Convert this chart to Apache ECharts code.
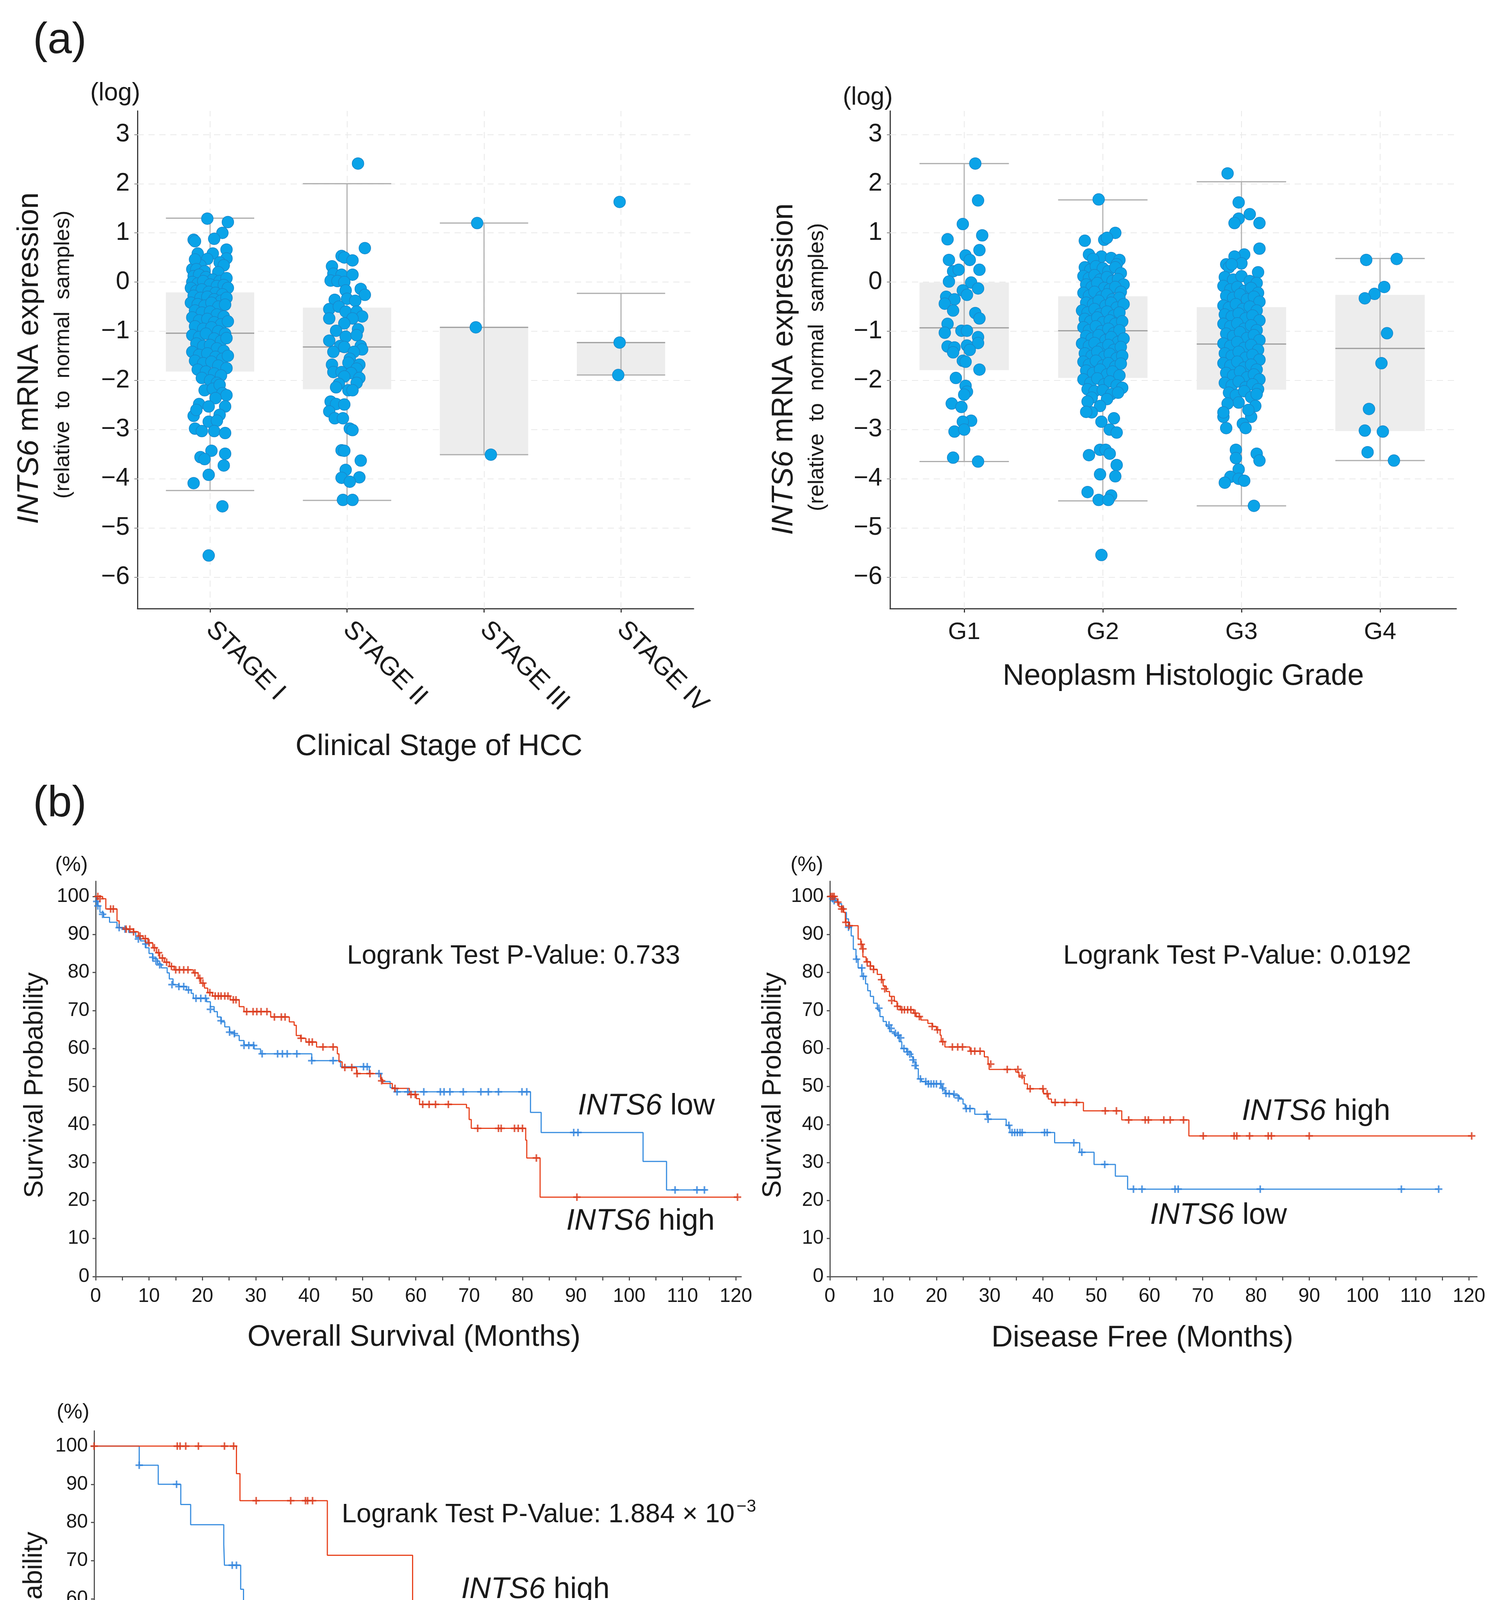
<!DOCTYPE html>
<html lang="en">
<head>
<meta charset="UTF-8">
<title>INTS6 expression and survival</title>
<script src="https://cdn.jsdelivr.net/npm/echarts@6.0.0/dist/echarts.min.js"></script>
<style>
    html, body { margin: 0; padding: 0; background: #fff; }
    #main { width: 3846px; height: 4997px; }
</style>
</head>
<body>
<div id="main"></div>
<script>
// ---------- (a) expression, log scale ----------
var stageCats = ['STAGE I', 'STAGE II', 'STAGE III', 'STAGE IV'];
var gradeCats = ['G1', 'G2', 'G3', 'G4'];
var logTicks = [-6, -5, -4, -3, -2, -1, 0, 1, 2, 3];
var catTicks = [0, 1, 2, 3];

// [lower whisker, Q1, median, Q3, upper whisker]
var stageBoxes = [
    [-4.24, -1.82, -1.04, -0.21, 1.30],
    [-4.44, -2.18, -1.32, -0.52, 2.00],
    [-3.51, -3.51, -0.92, -0.92, 1.20],
    [-1.89, -1.89, -1.23, -1.23, -0.23]
];
var gradeBoxes = [
    [-3.65, -1.79, -0.93, -0.01, 2.41],
    [-4.45, -1.95, -0.99, -0.29, 1.67],
    [-4.55, -2.19, -1.26, -0.51, 2.04],
    [-3.63, -3.03, -1.35, -0.26, 0.48]
];

// points: [jitter (category units), log expression]
var stage1Pts = [
    [-0.02,1.29],[0.13,1.22],[0.09,1.00],[0.03,0.88],[-0.12,0.86],[-0.11,0.83],[0.12,0.66],[-0.09,0.58],
    [0.02,0.58],[-0.02,0.47],[0.12,0.48],[0.07,0.40],[0.10,0.34],[-0.07,0.34],[-0.13,0.26],[-0.11,0.46],
    [-0.10,0.26],[-0.04,0.22],[0.06,0.20],
    [-0.12,0.12],[-0.08,0.15],[-0.03,0.10],[0.02,0.05],[0.07,0.02],[0.12,0.08],[-0.13,0.0],[-0.09,-0.03],
    [-0.05,0.02],[0.0,-0.05],[0.05,-0.08],[0.10,-0.06],[0.13,-0.12],[-0.14,-0.12],[-0.10,-0.18],[-0.06,-0.15],
    [-0.01,-0.20],[0.04,-0.22],[0.09,-0.25],[-0.12,-0.28],[-0.07,-0.32],[-0.02,-0.30],[0.03,-0.35],[0.08,-0.38],
    [0.12,-0.32],[-0.14,-0.42],[-0.09,-0.45],[-0.04,-0.48],[0.01,-0.42],[0.06,-0.50],[0.11,-0.46],[-0.11,-0.58],
    [-0.06,-0.62],[0.0,-0.60],[0.05,-0.66],[0.10,-0.70],[-0.13,-0.72],[-0.08,-0.78],[-0.02,-0.75],[0.03,-0.82],
    [0.08,-0.86],[0.13,-0.80],[-0.11,-0.90],[-0.05,-0.95],[0.01,-0.92],[0.06,-1.00],[0.11,-1.05],[-0.13,-1.08],
    [-0.08,-1.12],[-0.03,-1.05],[0.03,-1.15],[0.08,-1.20],[0.12,-1.14],[-0.10,-1.25],[-0.05,-1.30],[0.00,-1.28],
    [0.05,-1.35],[0.10,-1.40],[-0.13,-1.42],[-0.08,-1.48],[-0.02,-1.45],[0.04,-1.52],[0.09,-1.56],[0.13,-1.50],
    [-0.11,-1.60],[-0.05,-1.65],[0.01,-1.62],[0.06,-1.70],[0.12,-1.75],[-0.09,-1.78],[-0.03,-1.82],[0.03,-1.86],
    [0.08,-1.90],[-0.06,-1.95],[0.00,-2.00],[0.05,-2.05],
    [-0.04,-2.20],[0.02,-2.17],[0.07,-2.09],[0.09,-2.26],[0.12,-2.30],[0.04,-2.36],[-0.08,-2.48],[-0.01,-2.53],
    [0.11,-2.53],[-0.12,-2.72],[-0.10,-2.60],[0.07,-2.70],[-0.01,-2.84],[0.05,-2.82],[-0.11,-2.98],[-0.06,-3.03],
    [0.03,-3.03],[0.11,-3.07],[0.01,-3.43],[0.11,-3.49],[-0.07,-3.56],[-0.04,-3.60],[0.10,-3.73],[-0.01,-3.92],
    [-0.12,-4.09],[0.09,-4.56],[-0.01,-5.56]
];
var stage2Pts = [
    [0.08,2.41],[0.13,0.69],[-0.04,0.53],[-0.02,0.50],[0.04,0.44],[-0.11,0.32],[-0.10,0.17],[-0.04,0.15],
    [0.04,0.15],[-0.12,0.03],[-0.07,0.02],[-0.02,0.00],[-0.01,-0.17],[0.10,-0.14],[0.13,-0.26],[0.00,-0.34],
    [-0.09,-0.36],[0.06,-0.38],[-0.13,-0.55],[-0.06,-0.50],[-0.01,-0.60],[0.07,-0.60],[-0.13,-0.74],[0.11,-0.70],
    [0.04,-0.74],[-0.02,-0.84],[-0.08,-0.99],[0.08,-0.96],[-0.01,-1.11],[0.07,-1.08],[-0.13,-1.19],[-0.05,-1.30],
    [-0.02,-1.32],[0.10,-1.30],[0.11,-1.37],[-0.10,-1.42],[0.05,-1.42],[0.02,-1.56],[0.01,-1.64],[0.09,-1.68],
    [-0.11,-1.68],[0.07,-1.76],[-0.10,-1.83],[-0.04,-1.83],[0.03,-1.85],[0.09,-1.95],[-0.02,-1.92],[0.07,-2.05],
    [-0.06,-2.07],[-0.08,-2.14],[0.01,-2.20],[0.04,-2.20],[-0.12,-2.43],[-0.08,-2.48],[-0.02,-2.49],[-0.13,-2.63],
    [-0.09,-2.77],[-0.03,-2.77],[0.02,-2.98],[0.04,-3.01],[-0.04,-3.42],[-0.02,-3.43],[0.10,-3.63],[-0.01,-3.82],
    [-0.04,-3.98],[0.09,-3.97],[0.02,-4.06],[-0.03,-4.43],[0.04,-4.43]
];
var stage3Pts = [[-0.05,1.20],[-0.06,-0.92],[0.05,-3.51]];
var stage4Pts = [[-0.01,1.63],[-0.01,-1.23],[-0.02,-1.89]];

var grade1Pts = [
    [0.08,2.41],[0.10,1.66],[-0.01,1.18],[0.13,0.95],[-0.12,0.87],[-0.11,0.45],[0.01,0.54],[0.04,0.45],
    [0.11,0.25],[-0.08,0.22],[-0.04,0.25],[0.11,0.65],[-0.11,0.01],[0.05,-0.01],[0.10,-0.13],[-0.01,-0.17],
    [0.02,-0.26],[-0.13,-0.30],[-0.07,-0.35],[-0.14,-0.44],[-0.08,-0.58],[0.08,-0.63],[0.11,-0.74],[-0.12,-0.85],
    [-0.02,-0.99],[0.02,-0.99],[-0.14,-1.03],[0.10,-1.12],[0.10,-1.24],[-0.12,-1.31],[0.02,-1.29],[-0.07,-1.33],
    [-0.08,-1.43],[0.04,-1.38],[-0.01,-1.60],[0.01,-1.62],[0.11,-1.78],[-0.06,-1.95],[0.01,-2.11],[0.02,-2.23],
    [0.00,-2.29],[-0.09,-2.47],[-0.02,-2.54],[0.05,-2.82],[-0.01,-2.84],[-0.07,-3.04],[0.00,-3.00],[-0.08,-3.57],
    [0.10,-3.65]
];
var grade2Pts = [
    [-0.03,1.68],[0.09,1.00],[0.01,0.86],[0.03,0.90],[-0.13,0.84],[-0.10,0.56],[-0.01,0.52],[0.06,0.49],
    [0.12,0.45],[0.10,0.36],[-0.07,0.47],
    [-0.13,0.30],[-0.09,0.25],[-0.05,0.32],[0.0,0.28],[0.04,0.22],[0.09,0.30],[0.13,0.18],
    [-0.14,0.12],[-0.10,0.08],[-0.06,0.14],[-0.02,0.05],[0.03,0.10],[0.07,0.02],[0.11,0.06],[0.15,-0.05],
    [-0.12,-0.05],[-0.08,-0.10],[-0.04,-0.02],[0.01,-0.12],[0.05,-0.15],[0.09,-0.10],[0.13,-0.20],
    [-0.14,-0.22],[-0.10,-0.28],[-0.06,-0.20],[-0.01,-0.30],[0.03,-0.25],[0.07,-0.35],[0.12,-0.32],
    [-0.12,-0.42],[-0.07,-0.45],[-0.03,-0.38],[0.02,-0.48],[0.06,-0.42],[0.10,-0.52],[0.15,-0.45],
    [-0.15,-0.58],[-0.11,-0.62],[-0.06,-0.55],[-0.02,-0.65],[0.03,-0.60],[0.08,-0.68],[0.12,-0.62],
    [-0.13,-0.75],[-0.09,-0.80],[-0.04,-0.72],[0.0,-0.82],[0.05,-0.78],[0.09,-0.85],[0.14,-0.80],
    [-0.14,-0.92],[-0.10,-0.98],[-0.05,-0.90],[-0.01,-1.00],[0.04,-0.95],[0.08,-1.04],[0.12,-0.98],
    [-0.12,-1.10],[-0.08,-1.15],[-0.03,-1.08],[0.02,-1.18],[0.06,-1.12],[0.11,-1.22],[0.15,-1.15],
    [-0.15,-1.25],[-0.10,-1.30],[-0.06,-1.24],[-0.01,-1.35],[0.04,-1.28],[0.08,-1.38],[0.13,-1.32],
    [-0.13,-1.45],[-0.08,-1.50],[-0.04,-1.42],[0.01,-1.52],[0.05,-1.46],[0.10,-1.55],[0.14,-1.50],
    [-0.14,-1.62],[-0.10,-1.68],[-0.05,-1.60],[0.0,-1.70],[0.04,-1.65],[0.09,-1.72],[0.13,-1.66],
    [-0.12,-1.80],[-0.07,-1.85],[-0.02,-1.78],[0.03,-1.88],[0.07,-1.82],[0.12,-1.90],
    [-0.14,-1.98],[-0.09,-2.05],[-0.04,-1.96],[0.01,-2.08],[0.05,-2.02],[0.10,-2.10],[0.14,-2.15],
    [-0.11,-2.18],[-0.06,-2.22],[0.0,-2.20],[0.06,-2.28],[0.11,-2.25],[-0.08,-2.35],[0.03,-2.38],
    [-0.11,-2.43],[-0.02,-2.52],[-0.08,-2.65],[-0.12,-2.64],[0.08,-2.77],[-0.01,-2.84],[0.05,-3.00],[0.10,-3.06],
    [-0.02,-3.41],[0.02,-3.41],[-0.10,-3.52],[0.05,-3.49],[0.10,-3.72],[-0.02,-3.91],[0.09,-3.95],[-0.11,-4.27],
    [0.06,-4.34],[-0.03,-4.43],[0.04,-4.43],[-0.01,-5.55]
];
var grade3Pts = [
    [-0.10,2.21],[-0.02,1.62],[0.06,1.38],[-0.02,1.29],[-0.05,1.20],[0.13,1.20],[0.13,0.68],[0.02,0.56],
    [-0.05,0.52],[-0.11,0.36],[0.00,0.38],[0.12,0.20],[-0.09,0.30],[-0.07,0.36],
    [-0.12,0.10],[-0.06,0.05],[0.0,0.12],[0.06,0.02],[0.11,-0.02],
    [-0.13,-0.08],[-0.08,-0.15],[-0.03,-0.10],[0.02,-0.18],[0.07,-0.12],[0.12,-0.22],
    [-0.11,-0.28],[-0.06,-0.32],[-0.01,-0.25],[0.04,-0.35],[0.09,-0.30],[0.13,-0.40],
    [-0.13,-0.48],[-0.09,-0.52],[-0.04,-0.45],[0.01,-0.55],[0.06,-0.50],[0.11,-0.58],
    [-0.12,-0.66],[-0.07,-0.70],[-0.02,-0.64],[0.03,-0.74],[0.08,-0.68],[0.13,-0.78],
    [-0.13,-0.85],[-0.08,-0.90],[-0.03,-0.84],[0.02,-0.95],[0.07,-0.88],[0.11,-0.98],
    [-0.11,-1.05],[-0.06,-1.10],[-0.01,-1.02],[0.04,-1.14],[0.09,-1.08],[0.13,-1.18],
    [-0.13,-1.25],[-0.08,-1.30],[-0.03,-1.22],[0.02,-1.34],[0.07,-1.28],[0.12,-1.38],
    [-0.12,-1.45],[-0.07,-1.50],[-0.02,-1.42],[0.03,-1.54],[0.08,-1.48],[0.13,-1.58],
    [-0.13,-1.65],[-0.08,-1.70],[-0.03,-1.62],[0.02,-1.74],[0.07,-1.68],[0.11,-1.78],
    [-0.11,-1.85],[-0.06,-1.90],[-0.01,-1.82],[0.04,-1.94],[0.09,-1.88],[0.13,-1.98],
    [-0.12,-2.05],[-0.07,-2.10],[-0.02,-2.02],[0.03,-2.14],[0.08,-2.08],[0.12,-2.18],
    [-0.09,-2.25],[-0.04,-2.30],[0.02,-2.22],[0.07,-2.34],[0.11,-2.28],[-0.02,-2.45],[0.10,-2.52],
    [-0.13,-2.74],[0.07,-2.74],[-0.10,-2.47],[0.01,-2.88],[-0.11,-2.97],[0.03,-2.97],[-0.04,-3.41],[0.11,-3.49],
    [0.13,-3.63],[-0.04,-3.58],[-0.02,-3.81],[-0.08,-3.96],[-0.02,-4.00],[0.02,-4.04],[-0.12,-4.08],[0.09,-4.55],
    [-0.13,-2.65],[0.05,-2.60]
];
var grade4Pts = [
    [-0.10,0.45],[0.12,0.47],[0.03,-0.10],[-0.04,-0.24],[-0.11,-0.33],[0.05,-1.04],[0.01,-1.65],[-0.08,-2.58],
    [-0.11,-3.02],[0.02,-3.04],[-0.09,-3.46],[0.10,-3.63]
];

// ---------- (b) Kaplan-Meier, [month, survival %] ----------
var pctTicks = [0, 10, 20, 30, 40, 50, 60, 70, 80, 90, 100];
var monthLabels120 = [0, 10, 20, 30, 40, 50, 60, 70, 80, 90, 100, 110, 120];
var monthTicks120 = [0, 5, 10, 15, 20, 25, 30, 35, 40, 45, 50, 55, 60, 65, 70, 75, 80, 85, 90, 95, 100, 105, 110, 115, 120];
var monthLabels90 = [0, 10, 20, 30, 40, 50, 60, 70, 80, 90];
var monthTicks90 = [0, 5, 10, 15, 20, 25, 30, 35, 40, 45, 50, 55, 60, 65, 70, 75, 80, 85, 90];

var osHighSteps = [
    [0,100],[1.3,99.4],[1.9,96.7],[4.0,93.6],[4.4,91.8],[5.8,91.4],[7.1,90.7],[8.0,89.6],[8.9,88.9],[9.8,87.8],
    [10.7,86.5],[11.4,85.2],[12.0,83.8],[12.9,82.7],[13.8,81.6],[14.7,80.7],[18.3,79.9],[19.2,78.5],[19.7,77.2],
    [20.4,75.9],[21.0,74.7],[21.9,73.8],[25.2,72.8],[26.9,71.0],[27.8,69.7],[32.8,68.3],[36.3,67.0],[37.2,66.1],
    [37.6,63.4],[38.4,62.7],[39.4,61.7],[41.4,60.4],[45.3,58.6],[45.6,56.5],[46.2,55.0],[48.9,53.4],[53.4,51.9],
    [53.8,50.8],[55.6,49.5],[58.8,47.9],[60.1,46.8],[60.7,45.3],[69.5,44.4],[70.0,41.3],[70.4,39.0],[80.6,35.9],
    [80.8,31.2],[83.3,20.9],[120.3,20.9]
];
var osHighCensor = [
    [0.4,100],[0.8,99.4],[2.8,96.7],[3.3,96.7],[5.7,91.4],[6.4,91.4],[7.1,90.7],[8.3,89.6],[9.3,88.9],[10.0,87.8],
    [11.0,86.5],[11.8,85.2],[12.5,83.8],[13.3,82.7],[14.2,81.6],[15.0,80.7],[15.7,80.7],[16.5,80.7],[17.3,80.7],
    [18.6,79.9],[19.5,78.5],[20.1,77.2],[21.4,74.7],[22.4,73.8],[23.0,73.8],[23.5,73.8],[24.2,73.8],[24.8,73.8],
    [25.8,72.8],[26.3,72.8],[28.3,69.7],[29.5,69.7],[30.2,69.7],[31.0,69.7],[32.1,69.7],[33.5,68.3],[34.8,68.3],
    [35.5,68.3],[38.5,62.7],[40.0,61.7],[40.6,61.7],[42.6,60.4],[44.5,60.4],[46.7,55.0],[48.0,55.0],[49.0,53.4],
    [51.4,53.4],[53.6,51.5],[56.1,49.5],[59.1,47.9],[59.9,47.9],[61.3,45.3],[62.5,45.3],[63.7,45.3],[66.1,45.3],
    [71.6,39.0],[75.5,39.0],[76.0,39.0],[78.5,39.0],[79.2,39.0],[80.0,39.0],[82.6,31.2],[90.2,20.9],[120.3,20.9]
];
var osLowSteps = [
    [0,100],[0.2,98.7],[0.4,97.5],[0.8,95.8],[1.5,94.5],[2.6,93.2],[4.0,91.8],[5.1,91.4],[6.2,90.5],[7.5,89.2],
    [8.4,88.3],[9.3,86.5],[10.0,85.0],[10.7,83.6],[11.6,82.3],[12.3,81.2],[13.4,79.9],[13.8,78.3],[14.5,76.8],
    [15.6,76.3],[17.0,75.4],[17.9,74.5],[18.3,73.2],[20.8,72.3],[21.5,71.0],[22.2,69.7],[22.8,68.3],[23.5,67.0],
    [24.2,65.7],[25.1,64.3],[26.0,63.4],[26.9,62.1],[27.8,61.0],[29.7,59.9],[30.9,58.6],[40.5,56.8],[45.9,55.2],
    [51.3,53.4],[53.5,51.3],[55.2,49.7],[56.1,48.6],[81.5,43.2],[83.5,37.9],[102.6,30.3],[107.0,22.8],[114.5,22.8]
];
var osLowCensor = [
    [0.2,98.7],[0.4,97.5],[1.3,95.3],[4.4,91.8],[5.5,91.4],[8.0,88.8],[9.4,87.5],[10.7,84.0],[11.3,83.0],[12.0,82.0],
    [14.3,76.8],[15.6,76.3],[16.5,76.3],[17.4,75.4],[18.8,73.2],[19.7,73.2],[20.6,73.2],[21.5,70.3],[23.5,67.3],
    [25.1,64.3],[26.0,63.9],[27.8,60.8],[28.7,60.8],[29.6,60.8],[31.2,58.6],[34.1,58.6],[35.0,58.6],[35.9,58.6],
    [37.7,58.6],[40.5,56.8],[44.5,56.8],[50.2,55.2],[50.9,55.2],[53.1,53.4],[56.5,48.6],[58.5,48.6],[61.5,48.6],
    [64.6,48.6],[65.3,48.6],[66.4,48.6],[68.9,48.6],[72.2,48.6],[73.6,48.6],[75.5,48.6],[79.9,48.6],[80.8,48.6],
    [89.6,37.9],[90.4,37.9],[108.6,22.8],[112.7,22.8],[114.1,22.8]
];

var dfsHighSteps = [
    [0,100],[1.0,99.4],[1.4,98.5],[1.7,97.3],[2.2,96.7],[2.6,95.8],[2.9,93.2],[3.7,92.3],[5.3,88.8],[5.8,87.4],
    [6.2,84.1],[6.8,82.8],[7.6,81.7],[8.2,80.8],[8.9,79.5],[9.7,78.1],[10.0,76.4],[10.6,75.0],[11.2,73.7],[12.1,72.4],
    [12.6,71.1],[13.2,70.2],[15.7,69.3],[16.2,68.4],[17.1,67.5],[18.4,66.6],[19.3,65.8],[20.0,64.9],[20.7,63.5],
    [20.9,61.8],[21.6,60.4],[26.3,59.3],[29.0,57.8],[29.7,56.0],[29.9,54.5],[34.9,53.8],[35.5,52.5],[36.5,50.7],
    [37.1,49.4],[40.1,48.1],[41.0,46.7],[41.6,45.8],[47.6,43.6],[54.8,41.2],[67.4,37.0],[120.5,37.0]
];
var dfsHighCensor = [
    [0.2,100],[0.5,100],[0.8,100],[1.5,98.5],[2.2,96.7],[2.5,96.7],[3.0,93.2],[3.6,92.3],[5.9,87.4],[6.2,86.2],
    [7.0,82.8],[7.6,81.7],[8.2,80.8],[9.7,78.1],[10.3,75.7],[11.6,72.6],[12.7,71.1],[13.5,70.2],[14.0,70.2],
    [14.6,70.2],[15.2,70.2],[16.0,69.3],[16.8,68.4],[19.2,65.8],[20.2,64.9],[21.2,61.8],[23.0,60.4],[24.0,60.4],
    [24.9,60.4],[26.5,59.3],[27.2,59.3],[28.2,59.3],[30.2,55.9],[33.3,54.5],[35.3,54.5],[36.1,52.9],[37.6,49.4],
    [40.0,49.4],[40.8,48.1],[42.3,45.8],[44.1,45.8],[46.3,45.8],[51.7,43.6],[53.8,43.6],[56.1,41.2],[59.2,41.2],
    [59.8,41.2],[62.7,41.2],[63.9,41.2],[66.4,41.2],[70.1,37.0],[75.9,37.0],[76.4,37.0],[78.8,37.0],[82.3,37.0],
    [82.9,37.0],[90.0,37.0],[120.5,37.0]
];
var dfsLowSteps = [
    [0,100],[0.4,99.4],[1.0,98.9],[1.5,98.1],[2.2,97.2],[2.6,95.8],[3.1,94.1],[3.5,91.9],[4.0,89.6],[4.4,86.1],
    [4.9,83.5],[5.3,81.2],[6.0,79.0],[6.7,77.0],[7.1,75.2],[7.6,73.7],[8.2,71.9],[8.9,70.2],[9.4,68.4],[10.0,67.1],
    [10.6,65.8],[11.2,64.4],[12.1,63.5],[13.0,61.8],[13.5,60.0],[14.4,59.1],[15.3,57.8],[15.7,56.5],[16.2,54.7],
    [16.6,52.0],[17.2,51.3],[18.0,50.7],[20.9,50.1],[21.1,49.2],[21.6,48.1],[23.2,47.6],[24.3,46.7],[25.0,45.4],
    [25.4,44.2],[27.2,42.7],[29.7,41.4],[33.1,39.8],[33.8,37.9],[42.2,35.2],[46.9,32.7],[49.6,29.5],[53.6,26.4],
    [55.9,23.0],[114.3,23.0]
];
var dfsLowCensor = [
    [0.5,99.4],[0.8,98.9],[3.5,91.9],[5.0,83.5],[6.0,81.2],[6.3,79.0],[9.2,70.6],[11.1,66.2],[11.5,65.3],[12.3,64.0],
    [12.8,63.5],[13.3,62.8],[13.9,60.0],[14.6,59.1],[15.0,58.5],[15.6,57.0],[16.0,55.5],[17.0,52.0],[18.0,51.3],
    [18.5,50.7],[19.0,50.7],[19.5,50.7],[20.0,50.7],[20.8,50.7],[21.2,49.6],[21.8,48.2],[22.4,48.1],[23.3,48.0],
    [24.1,47.0],[25.6,44.2],[26.3,44.2],[29.5,42.7],[29.7,41.4],[33.6,39.8],[34.2,37.9],[34.7,37.9],[35.2,37.9],
    [35.7,37.9],[36.1,37.9],[40.3,37.9],[40.8,37.9],[45.8,35.2],[47.3,32.7],[51.6,29.5],[57.0,23.0],[58.6,23.0],
    [64.8,23.0],[65.4,23.0],[80.8,23.0],[107.3,23.0],[114.3,23.0]
];

var consHighSteps = [[0,100],[20.2,92.8],[20.7,85.7],[33.1,71.4],[45.2,57.1],[80.8,38.1],[83.2,18.9],[90.4,18.9]];
var consHighCensor = [
    [0,100],[11.8,100],[12.2,100],[13.0,100],[14.8,100],[18.5,100],[19.8,100],[23.0,85.7],[27.9,85.7],
    [30.0,85.7],[30.3,85.7],[31.0,85.7],[49.2,57.1],[90.4,18.9]
];
var consLowSteps = [
    [0,100],[6.4,95.0],[9.1,90.0],[12.3,84.7],[13.7,79.4],[18.4,74.2],[18.5,68.8],[20.8,62.5],[21.2,56.2],
    [21.6,50.0],[25.3,43.8],[28.0,35.0],[37.4,23.3],[51.4,11.6],[53.4,0]
];
var consLowCensor = [[6.4,95.0],[11.7,90.0],[19.6,68.8],[20.2,68.8],[25.7,43.8],[26.5,43.8],[28.0,35.0]];

// ---------- styling ----------
var FONT = '"Liberation Sans", Arial, sans-serif';
var INK = '#1a1a1a';
var RED = '#e8441f';
var BLUE = '#3b8fe0';
var DOT = '#0aa3e8';
var BOX_HALF = 0.3225;
var PLUS = 'path://M-1,-0.22H-0.22V-1H0.22V-0.22H1V0.22H0.22V1H-0.22V0.22H-1Z';

function minus(v) { return v < 0 ? '\u2212' + Math.abs(v) : String(v); }

function jitter(groups) {
    var out = [];
    groups.forEach(function (pts, i) {
        pts.forEach(function (p) { out.push([i + p[0], p[1]]); });
    });
    return out;
}

function boxRows(boxes) {
    return boxes.map(function (b, i) { return [i].concat(b); });
}

function renderBox(params, api) {
    var x = api.value(0);
    var lo = api.value(1), q1 = api.value(2), med = api.value(3), q3 = api.value(4), hi = api.value(5);
    var a = api.coord([x - BOX_HALF, q3]);
    var b = api.coord([x + BOX_HALF, q1]);
    function hline(v, color) {
        var l = api.coord([x - BOX_HALF, v]), r = api.coord([x + BOX_HALF, v]);
        return { type: 'line', shape: { x1: l[0], y1: l[1], x2: r[0], y2: r[1] }, style: { stroke: color, lineWidth: 3 } };
    }
    var top = api.coord([x, hi]), bot = api.coord([x, lo]);
    return {
        type: 'group',
        children: [
            { type: 'rect', shape: { x: a[0], y: a[1], width: b[0] - a[0], height: Math.max(b[1] - a[1], 0) }, style: { fill: '#ededed' } },
            { type: 'line', shape: { x1: top[0], y1: top[1], x2: bot[0], y2: bot[1] }, style: { stroke: '#b3b3b3', lineWidth: 3 } },
            hline(hi, '#adadad'), hline(lo, '#adadad'), hline(med, '#9c9c9c')
        ]
    };
}

function logYAxis(gi) {
    return {
        gridIndex: gi, type: 'value', min: -6.64, max: 3.48,
        axisLine: { show: true, onZero: false, lineStyle: { color: '#3a3a3a', width: 3 } },
        axisTick: { show: true, customValues: logTicks, length: 8, lineStyle: { color: '#888', width: 2 } },
        axisLabel: { customValues: logTicks, formatter: minus, fontSize: 64, fontFamily: FONT, color: INK, margin: 20 },
        splitLine: { show: false }
    };
}

function catXAxis(gi, cats, min, max, rotate, margin) {
    return {
        gridIndex: gi, type: 'value', min: min, max: max,
        axisLine: { show: true, onZero: false, lineStyle: { color: '#3a3a3a', width: 3 } },
        axisTick: { show: true, customValues: catTicks, length: 10, lineStyle: { color: '#3a3a3a', width: 3 } },
        axisLabel: {
            customValues: catTicks, rotate: rotate, margin: margin,
            formatter: function (v) { return cats[Math.round(v)]; },
            fontSize: rotate ? 66 : 62, fontFamily: FONT, color: INK
        },
        splitLine: { show: false }
    };
}

function kmXAxis(gi, max, labels, ticks) {
    return {
        gridIndex: gi, type: 'value', min: 0, max: max,
        axisLine: { show: true, onZero: false, lineStyle: { color: '#555', width: 3 } },
        axisTick: { show: true, customValues: ticks, length: 10, lineStyle: { color: '#555', width: 3 } },
        axisLabel: { customValues: labels, fontSize: 50, fontFamily: FONT, color: INK, margin: 26 },
        splitLine: { show: false }
    };
}

function kmYAxis(gi) {
    return {
        gridIndex: gi, type: 'value', min: 0, max: 104,
        axisLine: { show: true, onZero: false, lineStyle: { color: '#555', width: 3 } },
        axisTick: { show: true, customValues: pctTicks, length: 8, lineStyle: { color: '#555', width: 3 } },
        axisLabel: { customValues: pctTicks, fontSize: 50, fontFamily: FONT, color: INK, margin: 16 },
        splitLine: { show: false }
    };
}

function gridLines(gi) {
    var lines = logTicks.map(function (v) { return { yAxis: v }; })
        .concat(catTicks.map(function (v) { return { xAxis: v }; }));
    return {
        type: 'scatter', xAxisIndex: gi, yAxisIndex: gi, data: [], silent: true, z: 1,
        markLine: {
            silent: true, symbol: ['none', 'none'], label: { show: false }, animation: false, z: 1,
            lineStyle: { color: '#e9e9e9', width: 2, type: [16, 12] },
            data: lines
        }
    };
}

function boxSeries(gi, boxes) {
    return {
        type: 'custom', xAxisIndex: gi, yAxisIndex: gi, z: 2, silent: true,
        renderItem: renderBox, encode: { x: 0, y: [1, 2, 3, 4, 5] },
        data: boxRows(boxes)
    };
}

function dotSeries(gi, groups) {
    return {
        type: 'scatter', xAxisIndex: gi, yAxisIndex: gi, z: 3, symbolSize: 30,
        itemStyle: { color: DOT, borderColor: '#1a86c9', borderWidth: 1.5, opacity: 1 },
        data: jitter(groups)
    };
}

function kmLine(gi, data, color) {
    return {
        type: 'line', xAxisIndex: gi, yAxisIndex: gi, step: 'end', showSymbol: false, symbol: 'none',
        lineStyle: { color: color, width: 3 }, data: data, z: 2
    };
}

function kmCensor(gi, data, color) {
    return {
        type: 'scatter', xAxisIndex: gi, yAxisIndex: gi, symbol: PLUS, symbolSize: 19,
        itemStyle: { color: color }, data: data, z: 3
    };
}

function text(x, y, str, size, extra) {
    var el = {
        type: 'text', x: x, y: y, z: 10,
        style: { text: str, fontSize: size, fontFamily: FONT, fill: INK, align: 'center', verticalAlign: 'middle', textAlign: 'center', textVerticalAlign: 'middle' }
    };
    if (extra) {
        Object.keys(extra).forEach(function (k) {
            if (k === 'style') { Object.assign(el.style, extra.style); } else { el[k] = extra[k]; }
        });
    }
    return el;
}

function geneText(x, y, rest, size, extra) {
    var e = extra || {};
    e.style = Object.assign({
        text: '{i|INTS6}{n|' + rest + '}',
        rich: {
            i: { fontStyle: 'italic', fontSize: size, fontFamily: FONT, fill: INK },
            n: { fontSize: size, fontFamily: FONT, fill: INK }
        }
    }, e.style || {});
    return text(x, y, '', size, e);
}

var UP = { rotation: Math.PI / 2 };

var graphics = [
    text(153, 105, '(a)', 112),
    text(153, 2059, '(b)', 112),
    text(295, 239, '(log)', 64),
    text(2222, 250, '(log)', 64),
    geneText(76, 917, ' mRNA expression', 76, { rotation: Math.PI / 2 }),
    text(162, 908, '(relative  to  normal  samples)', 56, UP),
    geneText(2008, 945, ' mRNA expression', 76, { rotation: Math.PI / 2 }),
    text(2093, 940, '(relative  to  normal  samples)', 56, UP),
    text(1124, 1912, 'Clinical Stage of HCC', 76),
    text(3030, 1732, 'Neoplasm Histologic Grade', 76),

    text(183, 2215, '(%)', 54),
    text(2066, 2215, '(%)', 54),
    text(187, 3616, '(%)', 54),
    text(90, 2778, 'Survival Probability', 68, UP),
    text(1980, 2778, 'Survival Probability', 68, UP),
    text(88, 4210, 'Survival Probability', 68, UP),
    text(1060, 3424, 'Overall Survival (Months)', 76),
    text(2925, 3426, 'Disease Free (Months)', 76),
    text(1030, 4820, 'Overall Survival in patients treated', 76),
    text(1030, 4912, 'with conservative therapy (Months)', 76),

    text(1315, 2448, 'Logrank Test P-Value: 0.733', 68),
    text(3168, 2448, 'Logrank Test P-Value: 0.0192', 68),
    text(875, 3878, 'Logrank Test P-Value: 1.884 \u00d7 10', 68, { style: { align: 'left', textAlign: 'left' } }),
    text(1886, 3858, '\u22123', 44, { style: { align: 'left', textAlign: 'left' } }),

    geneText(1655, 2832, ' low', 76),
    geneText(1640, 3127, ' high', 76),
    geneText(3370, 2846, ' high', 76),
    geneText(3120, 3112, ' low', 76),
    geneText(1371, 4070, ' high', 76),
    geneText(657, 4420, ' low', 76)
];

var myChart = echarts.init(document.getElementById('main'), null, { renderer: 'canvas' });
myChart.setOption({
    animation: false,
    backgroundColor: '#ffffff',
    textStyle: { fontFamily: FONT },
    grid: [
        { left: 352, top: 284, width: 1424, height: 1274, outerBoundsMode: 'none' },
        { left: 2279, top: 284, width: 1450, height: 1274, outerBoundsMode: 'none' },
        { left: 245, top: 2256, width: 1653, height: 1012, outerBoundsMode: 'none' },
        { left: 2125, top: 2256, width: 1657, height: 1012, outerBoundsMode: 'none' },
        { left: 241, top: 3663, width: 1649, height: 1016, outerBoundsMode: 'none' }
    ],
    xAxis: [
        catXAxis(0, stageCats, -0.53, 3.53, -45, 44),
        catXAxis(1, gradeCats, -0.535, 3.55, 0, 30),
        kmXAxis(2, 121, monthLabels120, monthTicks120),
        kmXAxis(3, 121.5, monthLabels120, monthTicks120),
        kmXAxis(4, 91.4, monthLabels90, monthTicks90)
    ],
    yAxis: [logYAxis(0), logYAxis(1), kmYAxis(2), kmYAxis(3), kmYAxis(4)],
    graphic: graphics,
    series: [
        gridLines(0),
        gridLines(1),
        boxSeries(0, stageBoxes),
        boxSeries(1, gradeBoxes),
        dotSeries(0, [stage1Pts, stage2Pts, stage3Pts, stage4Pts]),
        dotSeries(1, [grade1Pts, grade2Pts, grade3Pts, grade4Pts]),

        kmLine(2, osLowSteps, BLUE), kmCensor(2, osLowCensor, '#2f82dc'),
        kmLine(2, osHighSteps, RED), kmCensor(2, osHighCensor, '#d9381a'),
        kmLine(3, dfsLowSteps, BLUE), kmCensor(3, dfsLowCensor, '#2f82dc'),
        kmLine(3, dfsHighSteps, RED), kmCensor(3, dfsHighCensor, '#d9381a'),
        kmLine(4, consLowSteps, BLUE), kmCensor(4, consLowCensor, '#2f82dc'),
        kmLine(4, consHighSteps, RED), kmCensor(4, consHighCensor, '#d9381a')
    ]
});
</script>
</body>
</html>
